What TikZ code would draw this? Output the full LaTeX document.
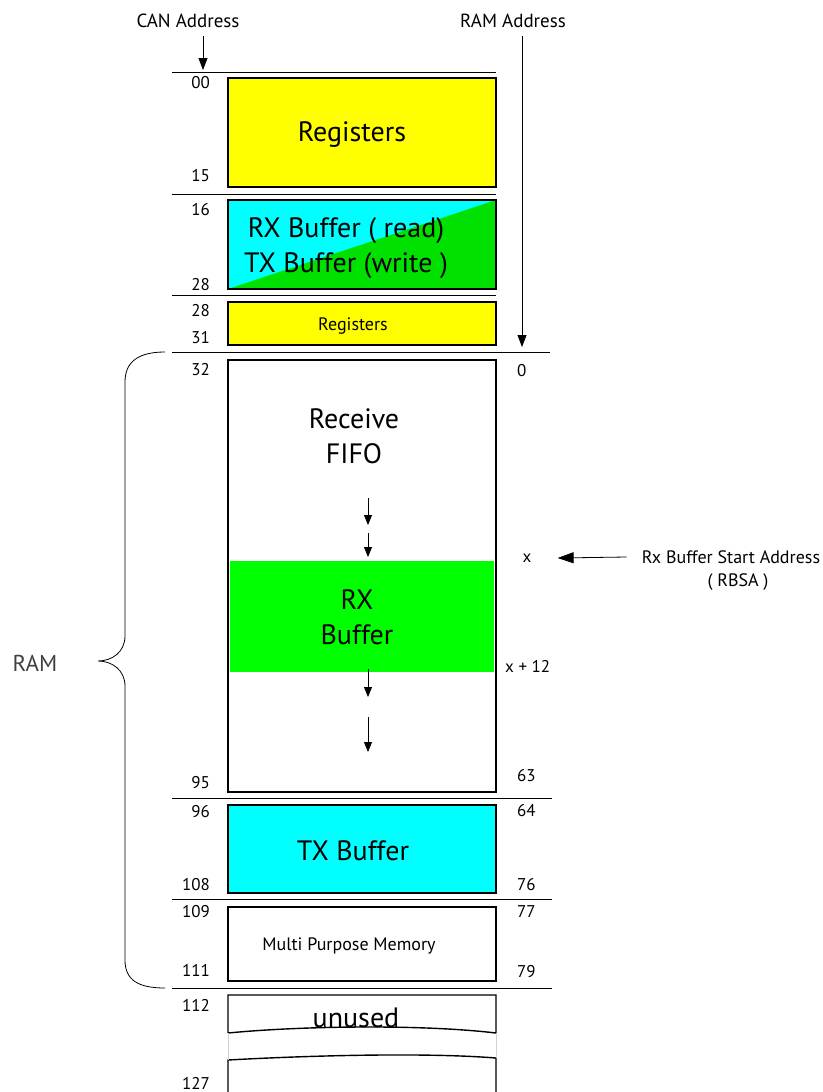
\documentclass[tikz,border=0pt]{standalone}
\usepackage{fontspec}
\setmainfont{PT Sans}
\usetikzlibrary{arrows.meta}
\definecolor{regamarillo}{RGB}{255,255,0}
\definecolor{bufcian}{RGB}{0,255,255}
\definecolor{bufverde}{RGB}{0,225,0}
\definecolor{rxverde}{RGB}{0,255,0}
\begin{document}
\begin{tikzpicture}[x=1pt, y=-1pt,
  caja/.style={draw, line width=1.4pt, minimum width=268pt, inner sep=0pt},
  grande/.style={font=\fontsize{28}{35}\selectfont, align=center, inner sep=0pt},
  chico/.style={font=\fontsize{18}{25}\selectfont, align=center, inner sep=0pt},
  dir/.style={font=\fontsize{17}{18}\selectfont, inner sep=0pt},
  cab/.style={font=\fontsize{19}{20}\selectfont, inner sep=0pt},
  sep/.style={line width=0.8pt},
  flecha/.style={-{Triangle[length=12pt,width=9pt]}, line width=0.8pt}
]
  \useasboundingbox (0,0) rectangle (822,1092);
  % column headers
  \node[cab] (can) at (188,21) {CAN Address};
  \node[cab] (ramA) at (513,21) {RAM Address};
  \coordinate (canTip) at (203,70);
  \coordinate (ramTip) at (522,347);
  \draw[flecha] ([shift={(15pt,-8pt)}]can.south) -- (canTip);
  \draw[flecha] ([shift={(9pt,-8pt)}]ramA.south) -- (ramTip);
  % separators
  \draw[sep] (172,72) -- (496,72);
  \draw[sep] (172,194) -- (496,194);
  \draw[sep] (172,295) -- (496,295);
  \draw[sep] (172,352) -- (550,352);
  \draw[sep] (172,798) -- (552,798);
  \draw[sep] (172,899) -- (552,899);
  \draw[sep] (172,988) -- (552,988);
  % blocks
  \node[caja, fill=regamarillo, minimum height=109pt] (regs) at (362,132.5) {};
  \node[caja, fill=bufcian, minimum height=89pt,
        path picture={\fill[bufverde] (path picture bounding box.south west)
          -- (path picture bounding box.north east)
          -- (path picture bounding box.south east) -- cycle;}] (rxtx) at (362,244.5) {};
  \node[caja, fill=regamarillo, minimum height=43pt] (regs2) at (362,323.5) {};
  \node[caja, fill=white, minimum height=432pt] (ram) at (362,576) {};
  \node[fill=rxverde, minimum width=264pt, minimum height=111pt, inner sep=0pt] (rxbuf) at (362,616.5) {};
  \node[caja, fill=bufcian, minimum height=88pt] (txbuf) at (362,849) {};
  \node[caja, fill=white, minimum height=74pt] (mpm) at (362,944) {};
  % unused
  \draw[line width=1.4pt] (228,1033) -- (228,995) -- (496,995) -- (496,1033)
    .. controls (420,1024) and (300,1026) .. (228,1033);
  \draw[line width=1.4pt] (228,1095) -- (228,1060)
    .. controls (300,1056) and (420,1052) .. (496,1058) -- (496,1095);
  \draw[gray!35, line width=0.5pt] (228,1033) -- (228,1060);
  \draw[gray!35, line width=0.5pt] (496,1033) -- (496,1058);
  % texts
  \node[grande] (regsT) at (352,135) {Registers};
  \node[grande] (rxtxT) at (346,248) {RX Buffer ( read)\\TX Buffer (write )};
  \node[chico] (regs2T) at (353,326) {Registers};
  \node[grande] (fifoT) at (354,436) {Receive\\FIFO};
  \node[grande] (rxbufT) at (357,617) {RX\\Buffer};
  \node[grande] (txbufT) at (353,851) {TX Buffer};
  \node[chico] (mpmT) at (349,946) {Multi Purpose Memory};
  \node[grande] (unusedT) at (356,1018) {unused};
  % FIFO flow arrows
  \foreach \ya/\yb [count=\i] in {498/525, 533/557, 669/697, 717/752} {
    \coordinate (fa\i) at (368,\ya);
    \coordinate (fb\i) at (368,\yb);
    \draw[-{Triangle[length=10pt,width=8pt]}, line width=0.8pt] (fa\i) -- (fb\i);
  }
  % CAN addresses
  \foreach \y/\t [count=\i] in {83/00, 176/15, 210/16, 285/28, 311/28, 338/31, 370/32,
      783/95, 812/96, 885/108, 912/109, 970/111, 1005/112, 1083/127} {
    \node[dir, anchor=east] (can\i) at (210,\y) {\t};
  }
  % RAM addresses
  \foreach \y/\t [count=\i] in {371/0, 776/63, 811/64, 885/76, 912/77, 972/79} {
    \node[dir, anchor=west] (ram\i) at (517,\y) {\t};
  }
  \node[dir] (xd) at (527,558) {x};
  \node[dir, anchor=west] (xdoce) at (505,666) {x + 12};
  \node[chico] (rbsa) at (731,557) {Rx Buffer Start Address};
  \node[chico] (rbsa2) at (738,582) {( RBSA )};
  \draw[-{Triangle[length=16pt,width=11pt]}, line width=0.8pt] ([xshift=-15pt]rbsa.west) -- ([xshift=26pt]xd.east);
  % RAM brace
  \draw[line width=0.8pt] (165,352) .. controls (138,352) and (125,362) .. (125,382)
    -- (125,636) .. controls (125,652) and (112,661) .. (98,661)
    .. controls (112,661) and (125,670) .. (125,686)
    -- (125,960) .. controls (125,980) and (138,988) .. (165,988);
  \node[font=\fontsize{23}{24}\selectfont, text=black!75, inner sep=0pt] (ramL) at (35,663) {RAM};
\end{tikzpicture}
\end{document}
